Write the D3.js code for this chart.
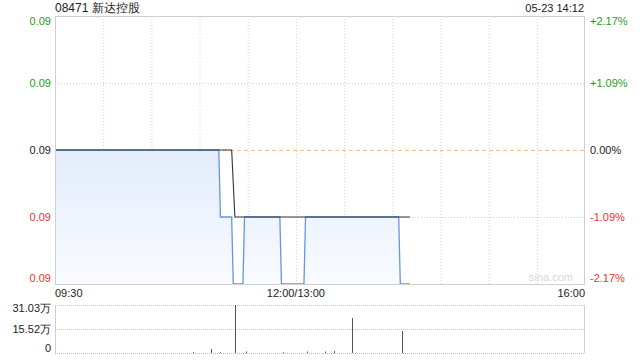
<!DOCTYPE html>
<html>
<head>
<meta charset="utf-8">
<script src="https://cdn.jsdelivr.net/npm/d3@7/dist/d3.min.js"></script>
<style>
  body { margin: 0; background: #fff; }
  svg { display: block; font-family: "Liberation Sans", Arial, sans-serif; }
</style>
</head>
<body>
<svg id="chart" width="640" height="360"></svg>
<script>
// 分时数据（新达控股 08471）
const title = "08471 新达控股";
const stamp = "05-23 14:12";
const prevClose = 0.092;

const priceTimes = ["09:30", "11:12", "11:13", "11:20", "11:21", "11:27", "11:28", "11:50", "11:51", "13:05", "13:06", "14:04", "14:05", "14:11"];
const priceValues = [0.092, 0.092, 0.091, 0.091, 0.090, 0.090, 0.091, 0.091, 0.090, 0.090, 0.091, 0.091, 0.090, 0.090];

const avgTimes = ["09:30", "11:20", "11:22", "14:11"];
const avgValues = [0.092, 0.092, 0.091, 0.091];

const volTimes = ["10:56", "11:07", "11:13", "11:22", "11:29", "11:52", "13:07", "13:18", "13:24", "13:35", "14:06"];
const volValues = [0.6, 2.6, 0.5, 31.03, 1.0, 0.5, 1.0, 1.0, 1.2, 22.6, 14.2]; // 万

const priceTicks = [0.094, 0.093, 0.092, 0.091, 0.090];
const timeTickLabels = ["09:30", "12:00/13:00", "16:00"];
const timeTickIdx = [0, 150, 330];

// minutes from open, lunch break removed
const toIdx = t => {
  const [h, m] = t.split(":").map(Number);
  const mins = h * 60 + m;
  return mins <= 720 ? mins - 570 : 150 + (mins - 780);
};

const svg = d3.select("#chart");
const L = 55, R = 585, T = 16, B = 284;
const vT = 305, vB = 353;

const x = d3.scaleLinear().domain([0, 330]).range([L, R]);
const y = d3.scaleLinear().domain([0.090, 0.094]).range([B, T]);
const yv = d3.scaleLinear().domain([0, d3.max(volValues)]).range([vB, vT]);

const green = "#1a9e1a", red = "#f23030", grid = "#d0d0d0";
const colorFor = v => v > prevClose ? green : v < prevClose ? red : "#222";

// gradient for area
const defs = svg.append("defs");
const grad = defs.append("linearGradient").attr("id", "fill")
  .attr("gradientUnits", "userSpaceOnUse")
  .attr("x1", 0).attr("y1", y(prevClose)).attr("x2", 0).attr("y2", B);
grad.append("stop").attr("offset", 0).attr("stop-color", "#e3ecfc");
grad.append("stop").attr("offset", 1).attr("stop-color", "#f9fbfe");

// title
svg.append("text").attr("x", L).attr("y", 12)
  .style("font-size", "12px").attr("fill", "#222").text(title);
svg.append("text").attr("x", R - 1).attr("y", 12).attr("text-anchor", "end")
  .style("font-size", "11px").attr("fill", "#222").text(stamp);

// vertical grid
const vg = svg.append("g");
d3.range(30, 330, 30).forEach(i => {
  vg.append("line").attr("x1", x(i) + 0.5).attr("x2", x(i) + 0.5)
    .attr("y1", T).attr("y2", B)
    .attr("stroke", grid).attr("stroke-dasharray", "1,2");
});

// horizontal grid
priceTicks.filter(v => v !== 0.094 && v !== 0.090 && v !== prevClose).forEach(v => {
  svg.append("line").attr("x1", L).attr("x2", R)
    .attr("y1", Math.round(y(v)) + 0.5).attr("y2", Math.round(y(v)) + 0.5)
    .attr("stroke", grid).attr("stroke-dasharray", "1,2");
});

// area + lines
const pts = priceTimes.map((t, i) => [toIdx(t), priceValues[i]]);
svg.append("path").datum(pts)
  .attr("fill", "url(#fill)")
  .attr("d", d3.area().x(d => x(d[0])).y0(B).y1(d => y(d[1])));

svg.append("line").attr("x1", L).attr("x2", R)
  .attr("y1", Math.round(y(prevClose)) + 0.5).attr("y2", Math.round(y(prevClose)) + 0.5)
  .attr("stroke", "#f5b98c").attr("stroke-dasharray", "4,3");

svg.append("path").datum(pts)
  .attr("fill", "none").attr("stroke", "#6096ea").attr("stroke-width", 1.3)
  .attr("d", d3.line().x(d => x(d[0])).y(d => y(d[1])));

const avgPts = avgTimes.map((t, i) => [toIdx(t), avgValues[i]]);
svg.append("path").datum(avgPts)
  .attr("fill", "none").attr("stroke", "#333").attr("stroke-width", 1.1)
  .attr("d", d3.line().x(d => x(d[0])).y(d => y(d[1])));

// borders
svg.append("rect").attr("x", L + 0.5).attr("y", T + 0.5)
  .attr("width", R - L - 1).attr("height", B - T)
  .attr("fill", "none").attr("stroke", "#cfcfcf");

// watermark
svg.append("text").attr("x", R - 12).attr("y", B - 3).attr("text-anchor", "end")
  .style("font-size", "11px").attr("fill", "#d8d8d8").text("sina.com");

// price labels
priceTicks.forEach((v, i) => {
  let yy = y(v) + 4;
  if (i === 0) yy += 5;
  if (i === priceTicks.length - 1) yy -= 6;
  svg.append("text").attr("x", 51).attr("y", yy).attr("text-anchor", "end")
    .style("font-size", "11px").attr("fill", colorFor(v)).text(d3.format(".2f")(v));
  const pct = (v - prevClose) / prevClose * 100;
  const s = (pct > 0 ? "+" : "") + pct.toFixed(2) + "%";
  svg.append("text").attr("x", 590).attr("y", yy).attr("text-anchor", "start")
    .style("font-size", "11px").attr("fill", colorFor(v)).text(s);
});

// time labels
timeTickLabels.forEach((s, i) => {
  const anchor = i === 0 ? "start" : i === timeTickLabels.length - 1 ? "end" : "middle";
  svg.append("text").attr("x", x(timeTickIdx[i])).attr("y", 297)
    .attr("text-anchor", anchor).style("font-size", "11px").attr("fill", "#222").text(s);
});

// volume panel
const vmax = d3.max(volValues);
[vmax, vmax / 2].forEach(v => {
  svg.append("line").attr("x1", L).attr("x2", R)
    .attr("y1", Math.round(yv(v)) + 0.5).attr("y2", Math.round(yv(v)) + 0.5)
    .attr("stroke", "#c8c8c8").attr("stroke-dasharray", "1,1");
});
svg.append("line").attr("x1", L).attr("x2", R).attr("y1", vB + 0.5).attr("y2", vB + 0.5)
  .attr("stroke", "#b8b8b8").attr("stroke-dasharray", "1,1");
svg.append("line").attr("x1", L + 0.5).attr("x2", L + 0.5).attr("y1", vT).attr("y2", vB)
  .attr("stroke", "#cfcfcf");
svg.append("line").attr("x1", R - 0.5).attr("x2", R - 0.5).attr("y1", vT).attr("y2", vB)
  .attr("stroke", "#cfcfcf");

svg.append("g").selectAll("line").data(volTimes).join("line")
  .attr("x1", t => Math.round(x(toIdx(t))) + 0.5).attr("x2", t => Math.round(x(toIdx(t))) + 0.5)
  .attr("y1", vB).attr("y2", (t, i) => yv(volValues[i]))
  .attr("stroke", "#555");

const volLabels = [[vmax, vmax.toFixed(2) + "万", 7], [vmax / 2, (vmax / 2).toFixed(2) + "万", 4], [0, "0", -1]];
volLabels.forEach(([v, s, dy]) => {
  svg.append("text").attr("x", 51).attr("y", yv(v) + dy).attr("text-anchor", "end")
    .style("font-size", "11px").attr("fill", "#222").text(s);
});
</script>
</body>
</html>
